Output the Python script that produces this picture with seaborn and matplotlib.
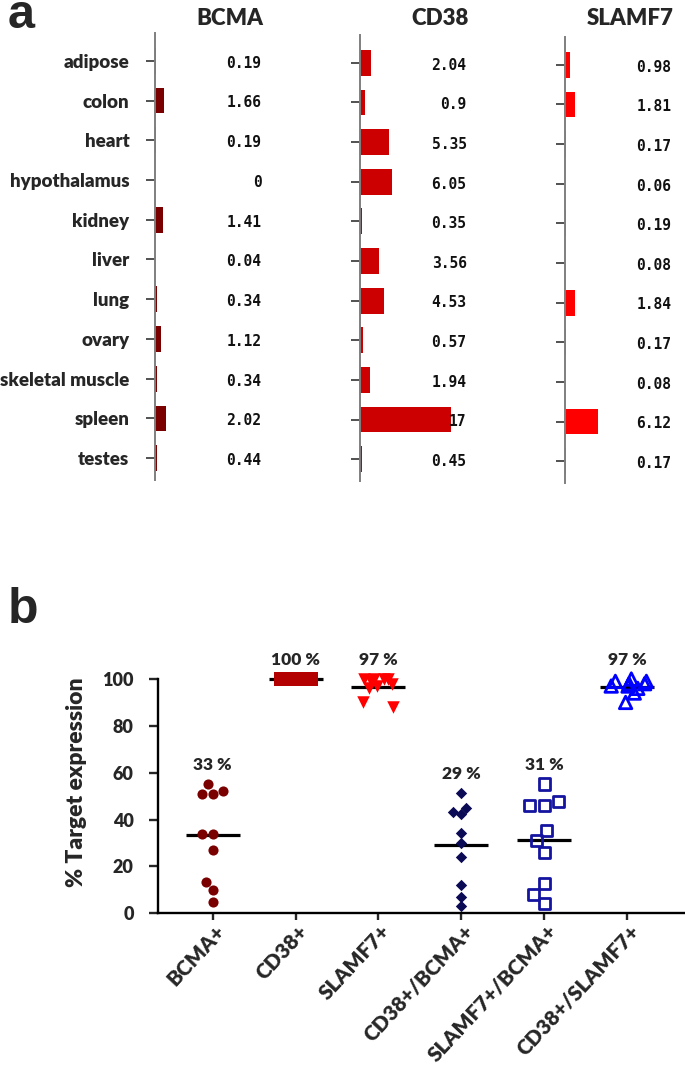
import numpy as np
import pandas as pd
import matplotlib
matplotlib.use("Agg")
import matplotlib.pyplot as plt
import matplotlib.transforms as mtransforms
import seaborn as sns

# ---------------- data ----------------
tissues = ["adipose", "colon", "heart", "hypothalamus", "kidney", "liver",
           "lung", "ovary", "skeletal muscle", "spleen", "testes"]
bcma_tissue = [0.19, 1.66, 0.19, 0, 1.41, 0.04, 0.34, 1.12, 0.34, 2.02, 0.44]
cd38_tissue = [2.04, 0.9, 5.35, 6.05, 0.35, 3.56, 4.53, 0.57, 1.94, 17, 0.45]
slamf7_tissue = [0.98, 1.81, 0.17, 0.06, 0.19, 0.08, 1.84, 0.17, 0.08, 6.12, 0.17]
panel_titles = ["BCMA", "CD38", "SLAMF7"]

groups = ["BCMA+", "CD38+", "SLAMF7+", "CD38+/BCMA+", "SLAMF7+/BCMA+", "CD38+/SLAMF7+"]
bcma_pos = [55.0, 51.1, 51.1, 52.1, 34.0, 34.0, 27.0, 13.2, 10.0, 5.0]
cd38_pos = [100, 100, 100, 100, 100, 100, 100, 100, 100, 100]
slamf7_pos = [100, 100, 100, 100, 99, 98, 96, 97, 88, 90]
cd38_bcma_pos = [51.2, 45.1, 42.2, 43.1, 34.1, 30.2, 23.9, 12.1, 7.1, 3.1]
slamf7_bcma_pos = [55.2, 47.9, 46.2, 46.2, 35.3, 31.0, 26.0, 12.8, 8.1, 4.0]
cd38_slamf7_pos = [100, 99, 99, 98, 98, 97, 97, 96, 94, 90]
pct_labels = ["33 %", "100 %", "97 %", "29 %", "31 %", "97 %"]

# ---------------- style ----------------
sns.set_style("white")
plt.rcParams["font.family"] = ["Lato", "DejaVu Sans"]
plt.rcParams["font.weight"] = "heavy"
WT = "heavy"

W, H = 685, 1066
fig = plt.figure(figsize=(W / 100, H / 100), dpi=100)


def fx(px):
    return px / W


def fy(px):
    return 1 - px / H


# ---------------- panel a ----------------
bar_colors = ["#7a0000", "#cc0000", "#ff0000"]
tissue_series = [bcma_tissue, cd38_tissue, slamf7_tissue]
ax_specs = [(155, 33, 480), (360, 35, 481), (565, 37, 483)]  # spine x, top, bottom (px)
units_px = 5.33
xmax = 22

for k, (vals, col, title, spec) in enumerate(zip(tissue_series, bar_colors, panel_titles, ax_specs)):
    sx, top, bot = spec
    ax = fig.add_axes([fx(sx), fy(bot), fx(xmax * units_px), (bot - top) / H])
    sns.barplot(x=vals, y=tissues, orient="h", color=col, width=0.65,
                errorbar=None, edgecolor="none", linewidth=0, ax=ax, saturation=1)
    ax.set_xlim(0, xmax)
    ax.set_ylim(10.55, -0.7)
    for s in ["top", "right", "bottom"]:
        ax.spines[s].set_visible(False)
    ax.spines["left"].set_color("#7f7f7f")
    ax.spines["left"].set_linewidth(1.4)
    ax.set_xticks([])
    ax.set_xlabel("")
    ax.set_ylabel("")
    ax.tick_params(axis="y", left=True, length=6.5, width=1.2, color="#333333", pad=12)
    if k == 0:
        for lab in ax.get_yticklabels():
            lab.set_fontsize(13.5)
            lab.set_fontweight(WT)
    else:
        ax.set_yticklabels([])
    for i, v in enumerate(vals):
        ax.text(20, i + 0.06, f"{v:g}", ha="right", va="center",
                fontsize=10.5, fontweight="bold", family="DejaVu Sans Mono", color="#111111")
    trans = mtransforms.blended_transform_factory(ax.transData, fig.transFigure)
    ax.text(20.4, fy(25), title, transform=trans, ha="right", va="baseline",
            fontsize=16, fontweight=WT, clip_on=False)

fig.text(fx(8), fy(28), "a", fontsize=35, fontweight="bold", family="Liberation Sans",
         ha="left", va="baseline")
fig.text(fx(8), fy(623), "b", fontsize=36, fontweight="bold", family="Liberation Sans",
         ha="left", va="baseline")

# ---------------- panel b ----------------
series = [bcma_pos, cd38_pos, slamf7_pos, cd38_bcma_pos, slamf7_bcma_pos, cd38_slamf7_pos]
df = pd.DataFrame({
    "group": np.repeat(groups, [len(s) for s in series]),
    "value": np.concatenate([np.asarray(s, float) for s in series]),
})

axb = fig.add_axes([fx(158), fy(913.3), fx(W - 158), (913.3 - 650.9) / H])

styles = {
    "BCMA+": dict(kind="swarm", marker="o", size=7.3, fc="#7a0000", ec="#7a0000", lw=0),
    "CD38+": dict(kind="strip", marker="s", size=10, fc="#b30000", ec="#b30000", lw=0, jitter=0.2),
    "SLAMF7+": dict(kind="strip", marker="v", size=9, fc="#ff0000", ec="#ff0000", lw=0, jitter=0.2),
    "CD38+/BCMA+": dict(kind="swarm", marker="D", size=5.8, fc="#0b0b55", ec="#0b0b55", lw=0),
    "SLAMF7+/BCMA+": dict(kind="swarm", marker="s", size=8.0, fc="none", ec="#1414a0", lw=2),
    "CD38+/SLAMF7+": dict(kind="strip", marker="^", size=9.0, fc="none", ec="#0000ff", lw=2, jitter=0.26),
}

# mean lines (behind points)
sns.pointplot(data=df, x="group", y="value", order=groups, estimator="mean",
              errorbar=None, markers="_", linestyles="none", color="black",
              markersize=39, markeredgewidth=2.3, ax=axb, zorder=2)

np.random.seed(7)
for g in groups:
    st = styles[g]
    sub = df[df["group"] == g]
    common = dict(data=sub, x="group", y="value", order=groups, marker=st["marker"],
                  size=st["size"], linewidth=st["lw"], ax=axb, zorder=3)
    if st["fc"] == "none":
        common.update(color=st["ec"], facecolors="none", edgecolor=st["ec"])
    else:
        common.update(color=st["fc"])
    if st["kind"] == "swarm":
        sns.swarmplot(warn_thresh=1, **common)
    else:
        sns.stripplot(jitter=st["jitter"], **common)

for i, g in enumerate(groups):
    top = df.loc[df["group"] == g, "value"].max()
    axb.text(i, top + 6, pct_labels[i], ha="center", va="baseline",
             fontsize=12.5, fontweight=WT, clip_on=False)

axb.set_xlim(-0.66, 5.70)
axb.set_ylim(0, 112)
axb.set_yticks([0, 20, 40, 60, 80, 100])
axb.spines["top"].set_visible(False)
axb.spines["right"].set_visible(False)
for s in ["left", "bottom"]:
    axb.spines[s].set_linewidth(1.7)
    axb.spines[s].set_color("black")
axb.spines["left"].set_bounds(0, 100)
axb.tick_params(axis="y", left=True, length=6.5, width=1.7, pad=11, labelsize=13)
axb.tick_params(axis="x", bottom=True, length=5, width=1.7, pad=4)
for lab in axb.get_yticklabels():
    lab.set_fontweight(WT)
axb.set_xticks(range(len(groups)))
axb.set_xticklabels(groups, rotation=47, ha="right", va="center",
                    rotation_mode="anchor", fontsize=15, fontweight=WT)
shift = mtransforms.ScaledTranslation(9 / 100, -2 / 100, fig.dpi_scale_trans)
for lab in axb.get_xticklabels():
    lab.set_transform(lab.get_transform() + shift)
axb.set_xlabel("")
axb.set_ylabel("% Target expression", fontsize=16.5, fontweight=WT, labelpad=11)

fig.savefig("out.png", dpi=100)
